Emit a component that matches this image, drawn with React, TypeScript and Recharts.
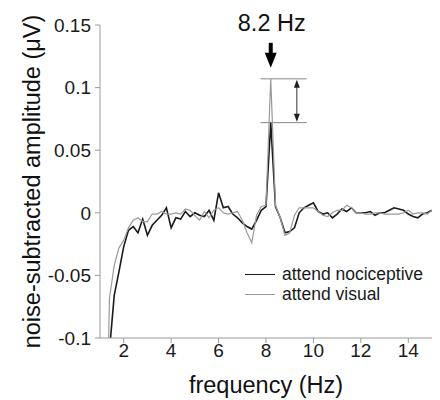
import { LineChart, Line, XAxis, YAxis, Legend, ReferenceLine, ReferenceDot, Label } from 'recharts'

const FONT = '"Liberation Sans", Arial, Helvetica, sans-serif'

// frequency bins (Hz)
const frequencies = [
  1.2, 1.4, 1.6, 1.8, 2.0, 2.2, 2.4, 2.6, 2.8, 3.0,
  3.2, 3.4, 3.6, 3.8, 4.0, 4.2, 4.4, 4.6, 4.8, 5.0,
  5.2, 5.4, 5.6, 5.8, 6.0, 6.2, 6.4, 6.6, 6.8, 7.0,
  7.2, 7.4, 7.6, 7.8, 8.0, 8.2, 8.4, 8.6, 8.8, 9.0,
  9.2, 9.4, 9.6, 9.8, 10.0, 10.2, 10.4, 10.6, 10.8, 11.0,
  11.2, 11.4, 11.6, 11.8, 12.0, 12.2, 12.4, 12.6, 12.8, 13.0,
  13.2, 13.4, 13.6, 13.8, 14.0, 14.2, 14.4, 14.6, 14.8, 15.0,
]

// noise-subtracted amplitude (µV)
const attendNociceptive = [
  -0.3, -0.11, -0.066, -0.047, -0.027, -0.014, -0.011, -0.016, -0.005, -0.018,
  -0.01, -0.006, -0.002, 0.004, -0.012, -0.004, -0.005, 0.001, -0.003, 0,
  -0.002, -0.003, 0.002, -0.006, 0.016, 0.004, 0.005, -0.001, -0.004, -0.008,
  -0.011, -0.013, -0.006, 0.002, 0.005, 0.072, 0.005, -0.004, -0.016, -0.015,
  -0.012, 0, 0.004, 0.006, 0.008, 0.001, -0.001, 0, -0.004, -0.001,
  0.003, 0.001, 0.004, 0, 0, 0, 0.001, -0.002, 0, 0,
  0.002, 0.004, 0.003, 0.002, -0.001, -0.003, -0.004, -0.001, 0, 0.002,
]

const attendVisual = [
  -0.25, -0.068, -0.042, -0.028, -0.022, -0.012, -0.006, -0.004, -0.007, -0.007,
  -0.001, -0.001, 0.001, -0.001, -0.001, 0, -0.001, 0.003, 0.002, -0.002,
  -0.006, 0.001, -0.004, 0.002, 0.004, 0, -0.001, 0, 0.001, -0.006,
  -0.016, -0.024, -0.002, 0.005, 0.006, 0.107, 0.006, -0.004, -0.018, -0.016,
  -0.002, 0.004, 0.004, 0.004, 0.004, 0.001, -0.002, -0.003, 0, 0.002,
  0.002, 0.006, 0.004, 0, 0, -0.001, -0.001, 0, 0, -0.001,
  -0.001, -0.001, -0.001, 0, 0.002, -0.001, 0, 0, -0.001, 0.002,
]

const xTicks = [2, 4, 6, 8, 10, 12, 14]
const yTicks = [-0.1, -0.05, 0, 0.05, 0.1, 0.15]

const stimFreq = 8.2
const peakIndex = frequencies.indexOf(stimFreq)
const nociPeak = attendNociceptive[peakIndex]
const visualPeak = attendVisual[peakIndex]

// bracket annotation extent (Hz)
const bracketFrom = 7.77
const bracketTo = 9.72
const bracketArrowAt = 9.3

const data = frequencies.map((f, i) => ({
  f,
  noci: attendNociceptive[i],
  visual: attendVisual[i],
}))

const series = [
  { key: 'noci', name: 'attend nociceptive', color: '#1a1a1a', width: 1.6 },
  { key: 'visual', name: 'attend visual', color: '#9a9a9a', width: 1.2 },
]

const PeakMarker = ({ cx, cy }: any) => (
  <g>
    <text x={cx + 1} y={cy - 48} textAnchor="middle" fontSize={23.5} fontFamily={FONT} fill="#111">
      {`${stimFreq} Hz`}
    </text>
    <rect x={cx - 2} y={cy - 36} width={4} height={11} fill="#000" />
    <polygon points={`${cx - 6},${cy - 26} ${cx + 6},${cy - 26} ${cx},${cy - 11}`} fill="#000" />
  </g>
)

const DoubleArrow = ({ x1, y1, x2, y2 }: any) => (
  <g>
    <line x1={x1} y1={y1 + 3} x2={x2} y2={y2 - 3} stroke="#333" strokeWidth={1} />
    <polygon points={`${x1 - 3},${y1 + 9} ${x1 + 3},${y1 + 9} ${x1},${y1 + 1}`} fill="#222" />
    <polygon points={`${x2 - 3},${y2 - 9} ${x2 + 3},${y2 - 9} ${x2},${y2 - 1}`} fill="#222" />
  </g>
)

const LegendBox = () => (
  <div style={{ fontFamily: FONT, fontSize: 17.5, color: '#1a1a1a', lineHeight: '20px' }}>
    {series.map((s) => (
      <div key={s.key} style={{ display: 'flex', alignItems: 'center', whiteSpace: 'nowrap', height: 20 }}>
        <span style={{ display: 'inline-block', width: 30, height: 0, borderTop: `${s.width}px solid ${s.color}`, marginRight: 7 }} />
        <span>{s.name}</span>
      </div>
    ))}
  </div>
)

const YTitle = ({ viewBox }: any) => {
  const cy = viewBox ? viewBox.y + viewBox.height / 2 : 181.5
  const x = 39.5
  return (
    <text x={x} y={cy} transform={`rotate(-90, ${x}, ${cy})`} textAnchor="middle" fontSize={23.5} fontFamily={FONT} fill="#111">
      noise-subtracted amplitude (μV)
    </text>
  )
}

export default function App() {
  return (
    <div style={{ position: 'absolute', left: 0, top: 0, background: '#fff' }}>
      <LineChart width={440} height={400} data={data} margin={{ top: 25, right: 8, bottom: 0, left: 0 }}>
        <XAxis
          dataKey="f"
          type="number"
          domain={[1, 15]}
          ticks={xTicks}
          allowDataOverflow
          height={62}
          tickSize={5}
          tickMargin={1}
          stroke="#999"
          tick={{ fontSize: 19, fill: '#1a1a1a', fontFamily: FONT }}
        >
          <Label value="frequency (Hz)" position="insideBottom" offset={7} fontSize={23.5} fontFamily={FONT} fill="#111" />
        </XAxis>
        <YAxis
          type="number"
          domain={[-0.1, 0.15]}
          ticks={yTicks}
          allowDataOverflow
          width={100}
          tickSize={5}
          tickMargin={4}
          stroke="#999"
          tick={{ fontSize: 19, fill: '#1a1a1a', fontFamily: FONT }}
        >
          <Label content={<YTitle />} />
        </YAxis>
        <Legend
          layout="horizontal"
          verticalAlign="middle"
          align="center"
          content={<LegendBox />}
          wrapperStyle={{ left: 245, top: 264, width: 'auto' }}
        />
        <ReferenceLine segment={[{ x: bracketFrom, y: visualPeak }, { x: bracketTo, y: visualPeak }]} stroke="#888" strokeWidth={1} />
        <ReferenceLine segment={[{ x: bracketFrom, y: nociPeak }, { x: bracketTo, y: nociPeak }]} stroke="#888" strokeWidth={1} />
        <ReferenceLine
          segment={[{ x: bracketArrowAt, y: visualPeak }, { x: bracketArrowAt, y: nociPeak }]}
          shape={<DoubleArrow />}
        />
        <ReferenceDot x={stimFreq} y={visualPeak} r={0} ifOverflow="visible" shape={<PeakMarker />} />
        {series.map((s) => (
          <Line
            key={s.key}
            type="linear"
            dataKey={s.key}
            name={s.name}
            stroke={s.color}
            strokeWidth={s.width}
            dot={false}
            activeDot={false}
            isAnimationActive={false}
          />
        ))}
      </LineChart>
    </div>
  )
}
